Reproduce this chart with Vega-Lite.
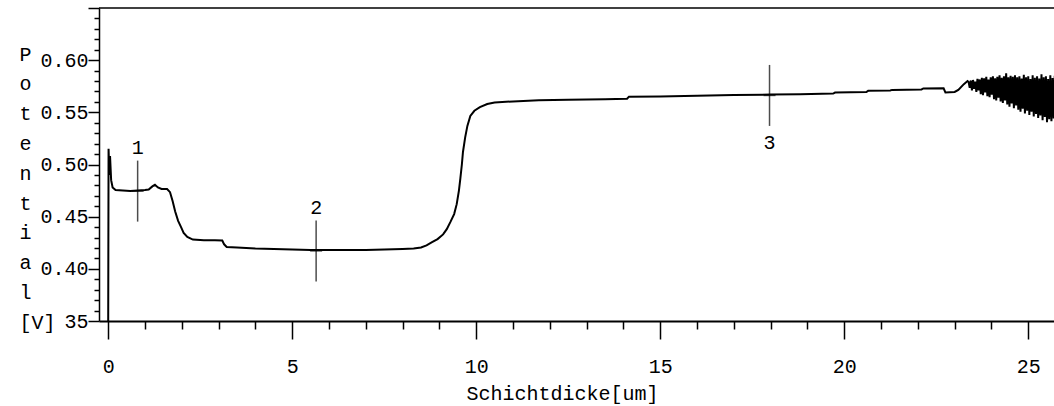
{
  "$schema": "https://vega.github.io/schema/vega-lite/v6.json",
  "width": 955,
  "height": 313,
  "autosize": {"type": "none"},
  "padding": {"left": 99, "top": 8, "right": 0, "bottom": 85},
  "background": "white",
  "config": {
    "view": {"stroke": null},
    "axis": {
      "grid": false,
      "labelFont": "Liberation Mono",
      "titleFont": "Liberation Mono",
      "labelFontSize": 20,
      "titleFontSize": 20,
      "titleFontWeight": "normal",
      "labelColor": "black",
      "titleColor": "black",
      "domainColor": "black",
      "tickColor": "black",
      "labelOverlap": false,
      "labelBound": false,
      "labelFlush": false
    },
    "text": {"font": "Liberation Mono"}
  },
  "datasets": {
    "profile": [
      {"depth": 0.0, "potential": 0.35},
      {"depth": 0.01, "potential": 0.515},
      {"depth": 0.03, "potential": 0.49},
      {"depth": 0.05, "potential": 0.508},
      {"depth": 0.08, "potential": 0.485},
      {"depth": 0.12, "potential": 0.478},
      {"depth": 0.2, "potential": 0.4755},
      {"depth": 0.4, "potential": 0.475},
      {"depth": 0.6, "potential": 0.4745},
      {"depth": 0.8, "potential": 0.475},
      {"depth": 1.0, "potential": 0.4755},
      {"depth": 1.1, "potential": 0.476},
      {"depth": 1.2, "potential": 0.479},
      {"depth": 1.27, "potential": 0.4805},
      {"depth": 1.35, "potential": 0.478},
      {"depth": 1.45, "potential": 0.4765},
      {"depth": 1.6, "potential": 0.4765},
      {"depth": 1.68, "potential": 0.4735},
      {"depth": 1.75, "potential": 0.465},
      {"depth": 1.82, "potential": 0.455},
      {"depth": 1.9, "potential": 0.446},
      {"depth": 1.98, "potential": 0.44},
      {"depth": 2.05, "potential": 0.4345},
      {"depth": 2.15, "potential": 0.4305},
      {"depth": 2.3, "potential": 0.428},
      {"depth": 2.6, "potential": 0.4275},
      {"depth": 2.9, "potential": 0.4275},
      {"depth": 3.1, "potential": 0.4272},
      {"depth": 3.15, "potential": 0.4235},
      {"depth": 3.22, "potential": 0.421},
      {"depth": 3.5, "potential": 0.4205},
      {"depth": 4.0, "potential": 0.4195},
      {"depth": 4.5, "potential": 0.419},
      {"depth": 5.0, "potential": 0.4185},
      {"depth": 5.5, "potential": 0.418},
      {"depth": 6.0, "potential": 0.418},
      {"depth": 6.5, "potential": 0.418},
      {"depth": 7.0, "potential": 0.418},
      {"depth": 7.5, "potential": 0.4185},
      {"depth": 8.0, "potential": 0.419},
      {"depth": 8.3, "potential": 0.4195},
      {"depth": 8.5, "potential": 0.4205},
      {"depth": 8.65, "potential": 0.4225},
      {"depth": 8.8, "potential": 0.4255},
      {"depth": 8.95, "potential": 0.4285},
      {"depth": 9.1, "potential": 0.433},
      {"depth": 9.2, "potential": 0.438},
      {"depth": 9.3, "potential": 0.445},
      {"depth": 9.4, "potential": 0.4525},
      {"depth": 9.47, "potential": 0.462},
      {"depth": 9.53, "potential": 0.475},
      {"depth": 9.57, "potential": 0.487},
      {"depth": 9.61, "potential": 0.5},
      {"depth": 9.64, "potential": 0.512},
      {"depth": 9.7, "potential": 0.526},
      {"depth": 9.76, "potential": 0.537},
      {"depth": 9.84, "potential": 0.5465},
      {"depth": 9.95, "potential": 0.5515},
      {"depth": 10.1, "potential": 0.555},
      {"depth": 10.3, "potential": 0.558},
      {"depth": 10.5, "potential": 0.5595},
      {"depth": 11.0, "potential": 0.5605},
      {"depth": 11.7, "potential": 0.5615},
      {"depth": 12.5, "potential": 0.562},
      {"depth": 13.5, "potential": 0.5625},
      {"depth": 14.1, "potential": 0.563},
      {"depth": 14.15, "potential": 0.565},
      {"depth": 15.0, "potential": 0.5652},
      {"depth": 16.0, "potential": 0.5658},
      {"depth": 17.0, "potential": 0.5665},
      {"depth": 18.0, "potential": 0.567},
      {"depth": 18.8, "potential": 0.5674},
      {"depth": 19.7, "potential": 0.568},
      {"depth": 19.75, "potential": 0.569},
      {"depth": 20.6, "potential": 0.5695},
      {"depth": 20.65, "potential": 0.5706},
      {"depth": 21.25, "potential": 0.571},
      {"depth": 21.3, "potential": 0.5715},
      {"depth": 22.1, "potential": 0.572},
      {"depth": 22.15, "potential": 0.5729},
      {"depth": 22.7, "potential": 0.573},
      {"depth": 22.75, "potential": 0.569},
      {"depth": 23.0, "potential": 0.5695},
      {"depth": 23.1, "potential": 0.5715},
      {"depth": 23.25, "potential": 0.577},
      {"depth": 23.35, "potential": 0.58},
      {"depth": 23.38, "potential": 0.579},
      {"depth": 23.41, "potential": 0.5735},
      {"depth": 23.44, "potential": 0.5805},
      {"depth": 23.47, "potential": 0.571},
      {"depth": 23.5, "potential": 0.581},
      {"depth": 23.53, "potential": 0.5725},
      {"depth": 23.56, "potential": 0.5795},
      {"depth": 23.59, "potential": 0.5695},
      {"depth": 23.62, "potential": 0.582},
      {"depth": 23.65, "potential": 0.571},
      {"depth": 23.68, "potential": 0.5815},
      {"depth": 23.71, "potential": 0.5675},
      {"depth": 23.74, "potential": 0.583},
      {"depth": 23.77, "potential": 0.5665},
      {"depth": 23.8, "potential": 0.5825},
      {"depth": 23.83, "potential": 0.569},
      {"depth": 23.86, "potential": 0.584},
      {"depth": 23.89, "potential": 0.5655},
      {"depth": 23.92, "potential": 0.5815},
      {"depth": 23.95, "potential": 0.5645},
      {"depth": 23.98, "potential": 0.5835},
      {"depth": 24.01, "potential": 0.567},
      {"depth": 24.04, "potential": 0.5845},
      {"depth": 24.07, "potential": 0.5625},
      {"depth": 24.1, "potential": 0.5825},
      {"depth": 24.13, "potential": 0.5615},
      {"depth": 24.16, "potential": 0.584},
      {"depth": 24.19, "potential": 0.564},
      {"depth": 24.22, "potential": 0.5855},
      {"depth": 24.25, "potential": 0.5605},
      {"depth": 24.28, "potential": 0.583},
      {"depth": 24.31, "potential": 0.559},
      {"depth": 24.34, "potential": 0.5845},
      {"depth": 24.37, "potential": 0.5615},
      {"depth": 24.4, "potential": 0.5875},
      {"depth": 24.43, "potential": 0.5575},
      {"depth": 24.46, "potential": 0.5835},
      {"depth": 24.49, "potential": 0.5555},
      {"depth": 24.52, "potential": 0.585},
      {"depth": 24.55, "potential": 0.5585},
      {"depth": 24.58, "potential": 0.584},
      {"depth": 24.61, "potential": 0.554},
      {"depth": 24.64, "potential": 0.5855},
      {"depth": 24.67, "potential": 0.5565},
      {"depth": 24.7, "potential": 0.5835},
      {"depth": 24.73, "potential": 0.5525},
      {"depth": 24.76, "potential": 0.5845},
      {"depth": 24.79, "potential": 0.5505},
      {"depth": 24.82, "potential": 0.5825},
      {"depth": 24.85, "potential": 0.5535},
      {"depth": 24.88, "potential": 0.586},
      {"depth": 24.91, "potential": 0.549},
      {"depth": 24.94, "potential": 0.5835},
      {"depth": 24.97, "potential": 0.5515},
      {"depth": 25.0, "potential": 0.5845},
      {"depth": 25.03, "potential": 0.5475},
      {"depth": 25.06, "potential": 0.582},
      {"depth": 25.09, "potential": 0.5505},
      {"depth": 25.12, "potential": 0.5855},
      {"depth": 25.15, "potential": 0.546},
      {"depth": 25.18, "potential": 0.583},
      {"depth": 25.21, "potential": 0.5485},
      {"depth": 25.24, "potential": 0.5845},
      {"depth": 25.27, "potential": 0.5445},
      {"depth": 25.3, "potential": 0.5825},
      {"depth": 25.33, "potential": 0.547},
      {"depth": 25.36, "potential": 0.5865},
      {"depth": 25.39, "potential": 0.5425},
      {"depth": 25.42, "potential": 0.5835},
      {"depth": 25.45, "potential": 0.5455},
      {"depth": 25.48, "potential": 0.5845},
      {"depth": 25.51, "potential": 0.5405},
      {"depth": 25.54, "potential": 0.582},
      {"depth": 25.57, "potential": 0.5435},
      {"depth": 25.6, "potential": 0.5855},
      {"depth": 25.63, "potential": 0.5415},
      {"depth": 25.66, "potential": 0.583},
      {"depth": 25.69, "potential": 0.544},
      {"depth": 25.72, "potential": 0.585}
    ],
    "markers": [
      {"marker": "1", "depth": 0.8, "potential": 0.4745},
      {"marker": "2", "depth": 5.65, "potential": 0.4172},
      {"marker": "3", "depth": 17.97, "potential": 0.5662}
    ]
  },
  "layer": [
    {
      "data": {"name": "profile"},
      "mark": {"type": "line", "color": "black", "strokeWidth": 2, "clip": true},
      "encoding": {
        "x": {
          "field": "depth",
          "type": "quantitative",
          "scale": {"domain": [-0.25, 25.7], "nice": false, "zero": false},
          "axis": {
            "values": [0,1,2,3,4,5,6,7,8,9,10,11,12,13,14,15,16,17,18,19,20,21,22,23,24,25],
            "tickCount": 200,
            "format": "d",
            "labelOverlap": false,
            "labelExpr": "datum.value % 5 === 0 ? datum.label : ''",
            "tickSize": {"condition": {"test": "datum.value % 5 === 0", "value": 18}, "value": 8},
            "tickWidth": 1.5,
            "domainWidth": 2,
            "labelPadding": 17,
            "labelBaseline": "top",
            "title": "Schichtdicke[um]",
            "titleX": 463,
            "titleY": 78,
            "titleAlign": "center",
            "titleBaseline": "alphabetic"
          }
        },
        "y": {
          "field": "potential",
          "type": "quantitative",
          "scale": {"domain": [0.35, 0.65], "nice": false, "zero": false},
          "axis": {
            "values": [0.35,0.36,0.37,0.38,0.39,0.4,0.41,0.42,0.43,0.44,0.45,0.46,0.47,0.48,0.49,0.5,0.51,0.52,0.53,0.54,0.55,0.56,0.57,0.58,0.59,0.6,0.61,0.62,0.63,0.64,0.65],
            "tickCount": 200,
            "labelOverlap": false,
            "labelExpr": "abs(datum.value - 0.35) < 1e-6 ? '35' : (abs(datum.value * 20 - round(datum.value * 20)) < 1e-6 && datum.value < 0.645 ? format(datum.value, '.2f') : '')",
            "tickSize": {"condition": {"test": "abs(datum.value * 20 - round(datum.value * 20)) < 1e-6", "value": 11}, "value": 5},
            "tickWidth": 1.5,
            "domainWidth": 1.5,
            "labelPadding": 0,
            "labelBaseline": "middle",
            "title": ["P", "o", "t", "e", "n", "t", "i", "a", "l", "[V]"],
            "titleAngle": 0,
            "titleAlign": "left",
            "titleBaseline": "alphabetic",
            "titleX": -80,
            "titleY": 52,
            "titleLineHeight": 29.8
          }
        }
      }
    },
    {
      "data": {"values": [{}]},
      "mark": {"type": "rule", "color": "black", "strokeWidth": 1.5},
      "encoding": {"y": {"datum": 0.65}}
    },
    {
      "data": {"name": "markers"},
      "mark": {"type": "tick", "orient": "vertical", "size": 61, "thickness": 1.5, "color": "black"},
      "encoding": {
        "x": {"field": "depth", "type": "quantitative"},
        "y": {"field": "potential", "type": "quantitative"}
      }
    },
    {
      "data": {"name": "markers"},
      "mark": {"type": "tick", "orient": "horizontal", "size": 12, "thickness": 1.5, "color": "black"},
      "encoding": {
        "x": {"field": "depth", "type": "quantitative"},
        "y": {"field": "potential", "type": "quantitative"}
      }
    },
    {
      "data": {"name": "markers"},
      "transform": [{"filter": "datum.marker != '3'"}],
      "mark": {"type": "text", "fontSize": 20, "color": "black", "baseline": "middle", "dy": -43},
      "encoding": {
        "x": {"field": "depth", "type": "quantitative"},
        "y": {"field": "potential", "type": "quantitative"},
        "text": {"field": "marker"}
      }
    },
    {
      "data": {"name": "markers"},
      "transform": [{"filter": "datum.marker == '3'"}],
      "mark": {"type": "text", "fontSize": 20, "color": "black", "baseline": "middle", "dy": 48},
      "encoding": {
        "x": {"field": "depth", "type": "quantitative"},
        "y": {"field": "potential", "type": "quantitative"},
        "text": {"field": "marker"}
      }
    }
  ]
}
